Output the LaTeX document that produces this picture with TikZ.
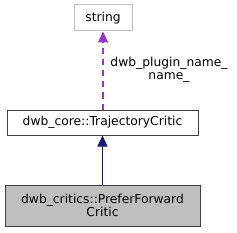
\documentclass[tikz,border=0pt]{standalone}
\usepackage{fontspec}
\setmainfont{DejaVu Sans}
\usetikzlibrary{arrows.meta}
\definecolor{orchid}{HTML}{9A32CD}
\definecolor{midblue}{HTML}{191970}
\definecolor{lgray}{HTML}{BFBFBF}
\tikzset{
  cls/.style={draw=black!75, line width=1pt, inner sep=0pt, font=\fontsize{12.3}{13.5}\selectfont, align=center},
  lbl/.style={font=\fontsize{12.3}{13.5}\selectfont, align=center, inner sep=0pt},
  inh/.style={draw=midblue, line width=1pt, -{Triangle[length=11pt,width=10pt]}},
  usedash/.style={draw=orchid, line width=1.1pt, dash pattern=on 6pt off 5pt, -{Triangle[length=11pt,width=10pt]}}
}
\begin{document}
\begin{tikzpicture}[x=1pt,y=-1pt]
\useasboundingbox (0,0) rectangle (237,232);
\node[cls, draw=lgray, minimum width=58pt, minimum height=26pt] (str) at (103,18) {string};
\node[cls, fill=white, minimum width=191pt, minimum height=25pt] (tc) at (102.5,122.5) {dwb\_core::TrajectoryCritic};
\node[cls, fill=lgray, minimum width=195pt, minimum height=41pt] (pf) at (102.5,205.5) {dwb\_critics::PreferForward\\Critic};
\draw[usedash] (tc.north -| str.south) -- (str.south);
\draw[inh] (pf.north) -- (tc.south);
\node[lbl] (lab) at (169,70) {dwb\_plugin\_name\_\\name\_};
\end{tikzpicture}
\end{document}
